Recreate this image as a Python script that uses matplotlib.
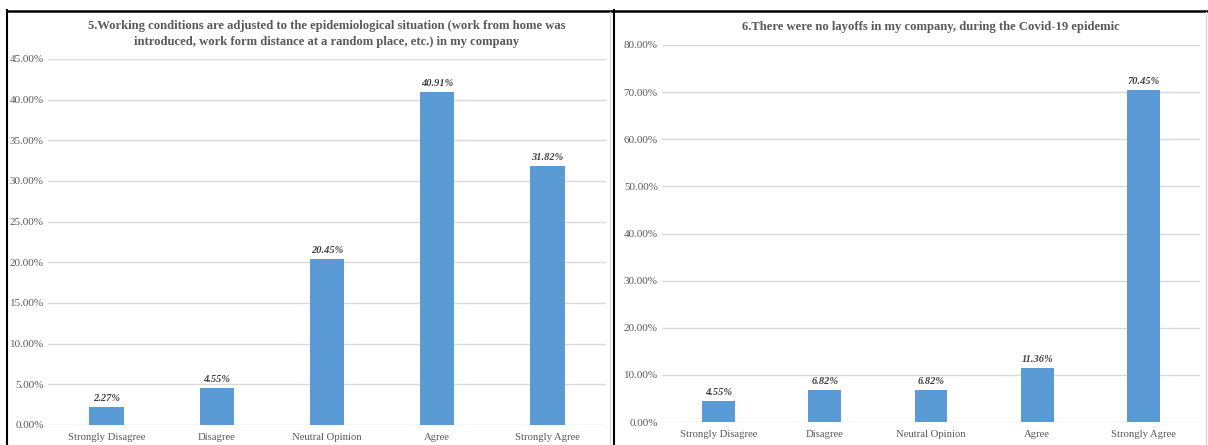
import matplotlib.pyplot as plt
from matplotlib.lines import Line2D
from matplotlib.ticker import FuncFormatter

categories = ['Strongly Disagree', 'Disagree', 'Neutral Opinion', 'Agree', 'Strongly Agree']
q5_values = [2.27, 4.55, 20.45, 40.91, 31.82]
q6_values = [4.55, 6.82, 6.82, 11.36, 70.45]
q5_title = ('5.Working conditions are adjusted to the epidemiological situation (work from home was\n'
            'introduced, work form distance at a random place, etc.) in my company')
q6_title = '6.There were no layoffs in my company, during the Covid-19 epidemic'

plt.rcParams['font.family'] = ['Liberation Serif', 'DejaVu Serif']

W, H = 1208, 445
fig = plt.figure(figsize=(W / 100, H / 100), dpi=100)

bar_color = '#5b9bd5'
grid_color = '#d9d9d9'
text_gray = '#595959'


def draw_chart(ax, values, ymax, step, title, title_y):
    ax.set_ylim(0, ymax)
    ax.set_xlim(-0.53, 4.53)
    for v in range(0, ymax + 1, step):
        ax.axhline(v, color=grid_color, lw=1, zorder=0)
    x = range(len(categories))
    ax.bar(x, values, width=0.31, color=bar_color, zorder=2)
    for xi, v in zip(x, values):
        ax.annotate(f'{v:.2f}%', (xi, v), xytext=(0, 4), textcoords='offset pixels',
                    ha='center', va='bottom', fontsize=7.5, fontweight='bold',
                    fontstyle='italic', color='#404040')
    ax.set_yticks(range(0, ymax + 1, step))
    ax.yaxis.set_major_formatter(FuncFormatter(lambda v, p: f'{v:.2f}%'))
    ax.set_xticks(list(x))
    ax.set_xticklabels(categories)
    ax.tick_params(axis='both', length=0, labelcolor=text_gray)
    ax.tick_params(axis='x', pad=6, labelsize=7.7)
    ax.tick_params(axis='y', pad=3, labelsize=8)
    for s in ax.spines.values():
        s.set_visible(False)
    ax.patch.set_alpha(0)
    fig.text(ax.get_position().x0 + ax.get_position().width / 2, title_y, title,
             ha='center', va='top', fontsize=9.1, fontweight='bold',
             color=text_gray, linespacing=1.45)


ax1 = fig.add_axes([48 / W, 20 / H, 558 / W, 366 / H])
draw_chart(ax1, q5_values, 45, 5, q5_title, 1 - 20 / H)

ax2 = fig.add_axes([662 / W, 23 / H, 538 / W, 377 / H])
draw_chart(ax2, q6_values, 80, 10, q6_title, 1 - 21 / H)

# table borders around the two charts
def fig_line(x0, y0, x1, y1, color='black', lw=1.5):
    fig.add_artist(Line2D([x0 / W, x1 / W], [1 - y0 / H, 1 - y1 / H],
                          color=color, lw=lw, transform=fig.transFigure))


fig_line(7, 10.5, W, 10.5, lw=1.8)
fig_line(7.5, 10, 7.5, H)
fig_line(613.5, 10, 613.5, H)
fig_line(609.5, 12, 609.5, H, color='#d9d9d9', lw=1)
fig_line(1205.5, 12, 1205.5, H, color='#d9d9d9', lw=1)

fig.savefig('out.png', dpi=100)
